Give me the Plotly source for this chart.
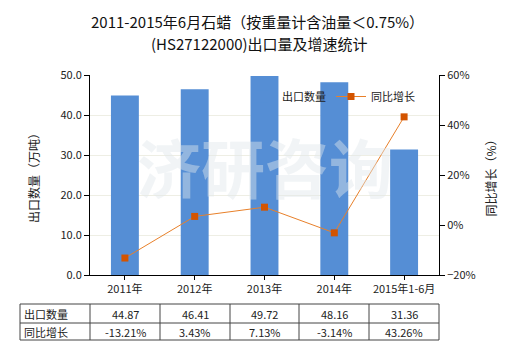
import plotly.graph_objects as go

categories = ["2011年", "2012年", "2013年", "2014年", "2015年1-6月"]
export_qty = [44.87, 46.41, 49.72, 48.16, 31.36]
growth = [-13.21, 3.43, 7.13, -3.14, 43.26]
row_labels = ["出口数量", "同比增长"]
title_lines = ["2011-2015年6月石蜡（按重量计含油量＜0.75%）", "(HS27122000)出口量及增速统计"]

FONT = "Noto Sans CJK SC"
BAR = "#558ed5"
LINE = "#e8802a"
MARK = "#d35400"

fig = go.Figure()
fig.add_trace(go.Bar(x=categories, y=export_qty, name="出口数量",
                     marker=dict(color=BAR, line=dict(width=0)), width=0.4))
fig.add_trace(go.Scatter(x=categories, y=growth, name="同比增长", yaxis="y2",
                         mode="lines+markers",
                         line=dict(color=LINE, width=1),
                         marker=dict(symbol="square", size=7, color=MARK)))

L, R, T, B = 90, 81, 75, 75
W, H = 520, 350
pw = W - L - R
ph = H - T - B

def px_x(x):
    return (x - L) / pw

def px_y(y):
    return (H - B - y) / ph

fig.update_layout(
    width=W, height=H,
    margin=dict(l=L, r=R, t=T, b=B),
    paper_bgcolor="white", plot_bgcolor="white",
    font=dict(family=FONT, size=11, color="#222"),
    showlegend=True,
    legend=dict(orientation="h", x=px_x(242), y=px_y(82), xanchor="left", yanchor="top",
                bgcolor="rgba(255,255,255,0)", font=dict(size=11), itemwidth=30,
                entrywidth=44, entrywidthmode="pixels", traceorder="normal"),
    xaxis=dict(showline=True, linecolor="black", linewidth=1, ticks="outside", ticklen=4,
               tickcolor="black", showgrid=False, tickfont=dict(size=11)),
    yaxis=dict(range=[0, 50], dtick=10, tickformat=".1f", showline=True, linecolor="black",
               ticks="outside", ticklen=5, tickcolor="black", gridcolor="#eeeee4",
               title=dict(text="出口数量（万吨）", font=dict(size=12), standoff=18),
               zeroline=False, tickfont=dict(size=11)),
    yaxis2=dict(range=[-20, 60], dtick=20, ticksuffix="%", overlaying="y", side="right",
                showline=True, linecolor="black", ticks="outside", ticklen=5, tickcolor="black",
                showgrid=False, zeroline=False, tickfont=dict(size=11),
                title=dict(text="同比增长（%）", font=dict(size=12), standoff=12)),
)

# title lines
for txt, yc, xc in [(title_lines[0], 21, 257), (title_lines[1], 44, 259)]:
    fig.add_annotation(text=txt, xref="paper", yref="paper", x=px_x(xc), y=px_y(yc),
                       xanchor="center", yanchor="middle", showarrow=False,
                       font=dict(size=15, family=FONT, color="#111"))

# watermark
fig.add_annotation(text="<b>济研咨询</b>", xref="paper", yref="paper", x=0.5, y=0.55,
                   showarrow=False, font=dict(size=64, family=FONT, color="rgba(225,230,235,0.45)"))

# table
cols_x = [20, 90, 160, 230, 299, 369, 439]
rows_y = [304, 323, 340]
shapes = []
for y in rows_y:
    shapes.append(dict(type="line", xref="paper", yref="paper", x0=px_x(cols_x[0]), x1=px_x(cols_x[-1]),
                       y0=px_y(y), y1=px_y(y), line=dict(color="#444", width=1)))
for x in cols_x:
    shapes.append(dict(type="line", xref="paper", yref="paper", x0=px_x(x), x1=px_x(x),
                       y0=px_y(rows_y[0]), y1=px_y(rows_y[-1]), line=dict(color="#444", width=1)))
fig.update_layout(shapes=shapes)

rows_text = [[f"{v:.2f}" for v in export_qty], [f"{v:.2f}%" for v in growth]]
for r in range(2):
    yc = (rows_y[r] + rows_y[r + 1]) / 2
    fig.add_annotation(text=row_labels[r], xref="paper", yref="paper", x=px_x(22), y=px_y(yc),
                       xanchor="left", yanchor="middle", showarrow=False, font=dict(size=11))
    for c in range(5):
        xc = (cols_x[c + 1] + cols_x[c + 2]) / 2
        fig.add_annotation(text=rows_text[r][c], xref="paper", yref="paper", x=px_x(xc), y=px_y(yc),
                           xanchor="center", yanchor="middle", showarrow=False, font=dict(size=11))

fig.write_html("out.html")
